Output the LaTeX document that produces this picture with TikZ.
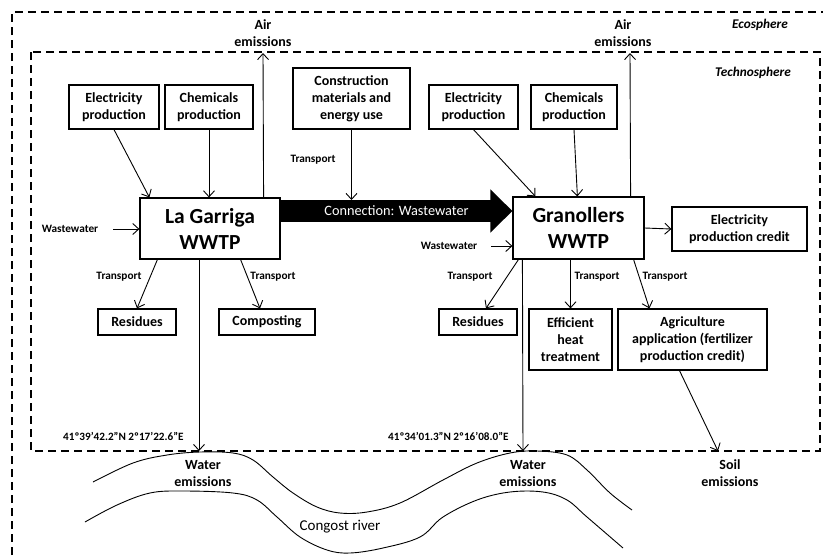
\documentclass[tikz,border=0pt]{standalone}
\usepackage{fontspec}
\setmainfont{Carlito}
\usetikzlibrary{calc,arrows.meta}

\newcommand{\boxfont}{\fontsize{14}{17}\selectfont\bfseries}
\newcommand{\plantfont}{\fontsize{21.5}{26}\selectfont\bfseries}
\newcommand{\tinyfont}{\fontsize{11.3}{13}\selectfont\bfseries}
\newcommand{\geofont}{\fontsize{11.2}{13}\selectfont\bfseries}

\tikzset{
  box/.style={draw,line width=1.2pt,align=center,font=\boxfont,inner sep=2pt},
  plant/.style={box,font=\plantfont},
  lbl/.style={align=center,font=\boxfont,inner sep=0pt},
  tlbl/.style={font=\tinyfont,inner sep=0pt},
  flow/.style={->,line width=0.9pt},
  sphere/.style={line width=1.6pt,dash pattern=on 8pt off 5pt},
}

\begin{document}
\begin{tikzpicture}[x=1pt,y=-1pt,>={Straight Barb[length=6pt,width=11pt]}]
   \useasboundingbox (0,0) rectangle (830,555);
   % spheres
   \draw[sphere] (12,555) -- (12,12) -- (823,12);
   \draw[sphere] (31,52) rectangle (820,451);
   \node[font=\fontsize{13.3}{16}\selectfont\bfseries\itshape] (eco) at (760,25) {Ecosphere};
   \node[font=\fontsize{13.3}{16}\selectfont\bfseries\itshape] (techno) at (753,73) {Technosphere};

   % plants
   \node[plant,minimum width=140pt,minimum height=61pt] (lg) at (210,228.5) {La Garriga\\WWTP};
   \node[plant,minimum width=131pt,minimum height=62pt] (gr) at (578.5,228) {Granollers\\WWTP};

   % inputs
   \node[box,minimum width=90pt,minimum height=44pt] (elecL) at (114,107) {Electricity\\production};
   \node[box,minimum width=88pt,minimum height=44pt] (chemL) at (209,107) {Chemicals\\production};
   \node[box,minimum width=117pt,minimum height=61pt] (constr) at (351.5,98.5) {Construction\\materials and\\energy use};
   \node[box,minimum width=89pt,minimum height=44pt] (elecR) at (473.5,107) {Electricity\\production};
   \node[box,minimum width=86pt,minimum height=44pt] (chemR) at (574,107) {Chemicals\\production};
   \node[box,minimum width=135pt,minimum height=44pt] (credit) at (739.5,229) {Electricity\\production credit};

   % outputs
   \node[box,minimum width=78pt,minimum height=26pt] (resL) at (137,322) {Residues};
   \node[box,minimum width=96pt,minimum height=26pt] (compo) at (267,322) {Composting};
   \node[box,minimum width=78pt,minimum height=26pt] (resR) at (478,322) {Residues};
   \node[box,minimum width=83pt,minimum height=61pt] (heat) at (570.5,339.5) {Efficient\\heat\\treatment};
   \node[box,minimum width=149pt,minimum height=61pt] (agri) at (692.5,339.5) {Agriculture\\application (fertilizer\\production credit)};

   % emissions
   \node[lbl] (airL) at (263,33.5) {Air\\emissions};
   \node[lbl] (airR) at (623,33.5) {Air\\emissions};
   \node[lbl] (watL) at (203,473.5) {Water\\emissions};
   \node[lbl] (watR) at (528,473.5) {Water\\emissions};
   \node[lbl] (soil) at (730,473.5) {Soil\\emissions};
   \coordinate (airLend) at (263,53);
   \coordinate (airRend) at (630,53);
   \coordinate (watLend) at (199,451);
   \coordinate (watRend) at (523,451);
   \coordinate (soilend) at (718,451);

   % small labels
   \node[tlbl] (wwL) at (70,229) {Wastewater};
   \node[tlbl] (wwR) at (449,246) {Wastewater};
   \node[tlbl] (trC) at (313,160) {Transport};
   \node[tlbl] (trL1) at (119,277) {Transport};
   \node[tlbl] (trL2) at (273,277) {Transport};
   \node[tlbl] (trR1) at (470,277) {Transport};
   \node[tlbl] (trR2) at (597,277) {Transport};
   \node[tlbl] (trR3) at (665,277) {Transport};
   \node[font=\geofont,inner sep=0pt,anchor=west] (geoL) at (63,436) {41º39’42.2”N 2º17’22.6”E};
   \node[font=\geofont,inner sep=0pt,anchor=west] (geoR) at (388,436) {41º34’01.3”N 2º16’08.0”E};

   % connection
   \path (lg.east) ++(0,-17.5) coordinate (cs);
   \coordinate (cstop) at ($(cs)+(0,-11)$);
   \draw[line width=22pt,-{Triangle[length=22pt,width=42pt]}] (cs) -- (cs -| gr.west)
      node[midway,text=white,font=\fontsize{14.3}{17}\selectfont] (conn) {Connection: Wastewater};

   % La Garriga flows
   \draw[flow] (elecL.south) -- ($(lg.north west)+(10,0)$);
   \draw[flow] (chemL.south) -- (chemL.south |- lg.north);
   \draw[flow] (constr.south) -- (constr.south |- cstop);
   \draw[flow] ($(wwL.east)+(15,0)$) -- (lg.west |- wwL);
   \draw[flow] ($(lg.north east)+(-17,0)$) -- (airLend);
   \draw[flow] ($(lg.south west)+(18,0)$) -- (resL.north);
   \draw[flow] ($(lg.south east)+(-40,0)$) -- ($(compo.north)+(-7,0)$);
   \draw[flow] ($(lg.south)+(-11,0)$) -- (watLend);

   % Granollers flows
   \draw[flow] (elecR.south) -- ($(gr.north west)+(23,0)$);
   \draw[flow] (chemR.south) -- ($(gr.north west)+(65,0)$);
   \draw[flow] ($(gr.north east)+(-14,0)$) -- (airRend);
   \draw[flow] ($(wwR.east)+(14,0)$) -- (gr.west |- wwR);
   \draw[flow] (gr.east) -- (credit.west);
   \draw[flow] ($(gr.south west)+(6,0)$) -- ($(resR.north)+(8,0)$);
   \draw[flow] (heat.north |- gr.south) -- (heat.north);
   \draw[flow] ($(gr.south east)+(-11,0)$) -- ($(agri.north west)+(32,0)$);
   \draw[flow] ($(gr.south west)+(10,0)$) -- (watRend);
   \draw[flow] ($(agri.south)+(-13,0)$) -- (soilend);

   % river
   \draw[line width=0.9pt] plot[smooth,tension=0.6] coordinates {(93,482) (133,463) (167,455) (200,452) (233,453) (253,460) (273,477) (293,493) (317,507) (340,513) (367,512) (400,503) (443,480) (477,463) (510,453) (537,451) (567,455) (587,470) (610,493) (632,510)};
   \draw[line width=0.9pt] plot[smooth,tension=0.6] coordinates {(85,522) (117,505) (150,493) (183,491) (233,493) (257,500) (277,517) (300,537) (327,550) (350,553) (383,548) (420,537) (443,517) (477,500) (510,492) (543,492) (567,500) (587,517) (623,548)};
   \node[font=\fontsize{15}{18}\selectfont] (river) at (340,527) {Congost river};
\end{tikzpicture}
\end{document}
